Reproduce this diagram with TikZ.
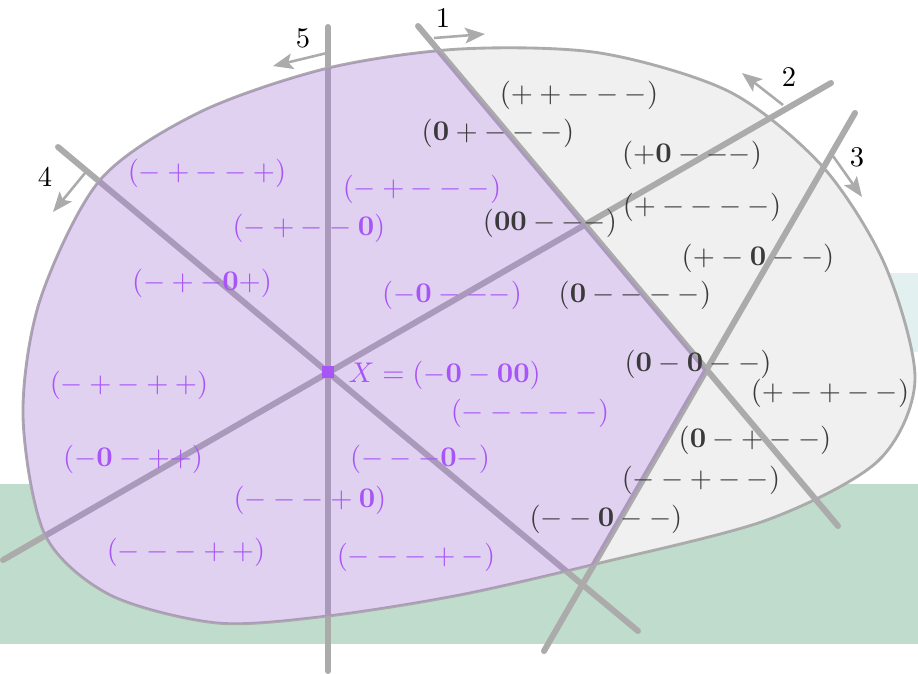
\documentclass[tikz,border=0pt]{standalone}
\usepackage{amsmath,amssymb}
\usepackage{tikz,tkz-euclide}
\usetikzlibrary{calc,arrows.meta}
\definecolor{hgray}{HTML}{ABABAB}
\definecolor{blobfill}{HTML}{F0F0F0}
\definecolor{labgray}{HTML}{3A3A3A}
\definecolor{cellpurple}{HTML}{A855F7}
\definecolor{bandgreen}{HTML}{C0DCCC}
\definecolor{bandteal}{HTML}{E2F1EF}
\newcommand{\zr}{\mathbf{0}}

\begin{document}
\begin{tikzpicture}[x=0.01233cm, y=-0.01233cm, >={Stealth[length=7pt,width=5.5pt,inset=1.5pt]}, line join=round,
        hplane/.style={line width=2.1pt, color=hgray},
        side/.style={->, line width=0.9pt, color=hgray},
        outcell/.style={text=labgray},
        incell/.style={text=cellpurple}]
        \useasboundingbox (0,0) rectangle (918,673);
        % background bands
        \fill[bandteal] (700,273) rectangle (918,352);
        \fill[bandgreen] (0,484) rectangle (918,644);
        % the region
        \def\blob{plot[smooth cycle] coordinates {(328,68) (460,49) (600,53) (730,92) (823,167) (885,265)
                (915,380) (878,461) (767,520) (600,563) (460,595) (328,616) (217,623) (110,595) (45,535)
                (23,416) (40,300) (100,180) (200,112)}}
        \draw[line width=1pt, draw=hgray, fill=blobfill] \blob;
        % hyperplanes
        \tkzDefPoints{418/26/A1,838/526/B1,831/83/A2,3/560/B2,855/113/A3,544/651/B3,
                58/147/A4,638/631/B4,328/27/A5,328/671/B5}
        \coordinate (P) at (intersection of A1--B1 and A3--B3);
        \tkzDrawSegments[hplane](A1,B1 A2,B2 A3,B3 A4,B4 A5,B5)
        \begin{scope}
                \clip \blob;
                \fill[cellpurple, opacity=0.2] (-10,-30) -- ($(A1)!-0.1!(B1)$) -- (P) -- ($(A3)!1.1!(B3)$) -- (-10,705) -- cycle;
        \end{scope}
        % normals
        \tkzDefPoints{434/38/N1,485/34/M1,783/105/N2,742/73/M2,833/156/N3,862/197/M3,
                85/173/N4,53/212/M4,327/53/N5,273/66/M5}
        \draw[side] (N1) -- (M1);
        \draw[side] (N2) -- (M2);
        \draw[side] (N3) -- (M3);
        \draw[side] (N4) -- (M4);
        \draw[side] (N5) -- (M5);
        \node (l1) at (443,18) {1};
        \node (l2) at (789,77) {2};
        \node (l3) at (857,157) {3};
        \node (l4) at (45,177) {4};
        \node (l5) at (303,38) {5};
        % sign vectors outside the cone
        \node[outcell] (ppmmm) at (579,95) {$(++---)$};
        \node[outcell] (zpmmm) at (498,133) {$(\zr+---)$};
        \node[outcell] (pzmmm) at (692,155) {$(+\zr---)$};
        \node[outcell] (pmmmm) at (702,207) {$(+----)$};
        \node[outcell] (zzmmm) at (550,223) {$(\zr\zr---)$};
        \node[outcell] (pmzmm) at (758,258) {$(+-\zr--)$};
        \node[outcell] (zmmmm) at (635,295) {$(\zr----)$};
        \node[outcell] (zmzmm) at (698,364) {$(\zr-\zr--)$};
        \node[outcell] (pmpmm) at (830,393) {$(+-+--)$};
        \node[outcell] (zmpmm) at (755,440) {$(\zr-+--)$};
        \node[outcell] (mmpmm) at (701,480) {$(--+--)$};
        \node[outcell] (mmzmm) at (606,519) {$(--\zr--)$};
        % sign vectors in the cone
        \node[incell] (mpmmp) at (207,173) {$(-+--+)$};
        \node[incell] (mpmmm) at (422,189) {$(-+---)$};
        \node[incell] (mpmmz) at (309,228) {$(-+--\zr)$};
        \node[incell] (mpmzp) at (202,283) {$(-+-\zr+)$};
        \node[incell] (mzmmm) at (452,295) {$(-\zr---)$};
        \node[incell] (mpmpp) at (129,385) {$(-+-++)$};
        \node[incell] (mmmmm) at (530,413) {$(-----)$};
        \node[incell] (mzmpp) at (133,459) {$(-\zr-++)$};
        \node[incell] (mmmzm) at (420,459) {$(---\zr-)$};
        \node[incell] (mmmpz) at (310,500) {$(---+\zr)$};
        \node[incell] (mmmpp) at (186,552) {$(---++)$};
        \node[incell] (mmmpm) at (416,557) {$(---+-)$};
        % the point X
        \node[fill=cellpurple, inner sep=0pt, minimum size=4.2pt] (X) at (328,372) {};
        \node[incell, anchor=west, inner sep=0pt] (Xlab) at (348,375) {$X=(-\zr-\zr\zr)$};
\end{tikzpicture}
\end{document}
